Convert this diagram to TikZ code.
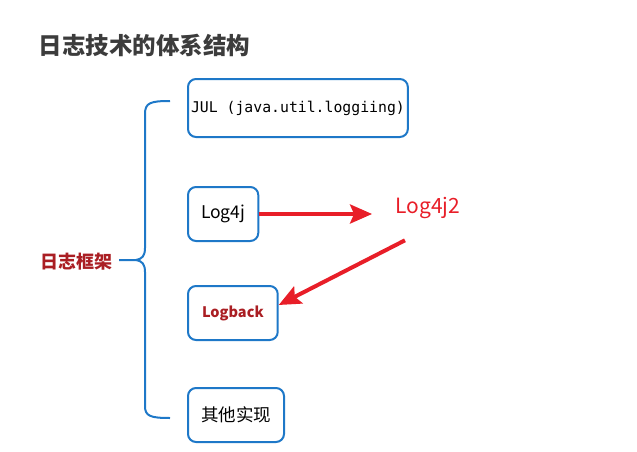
\documentclass[tikz,border=0pt]{standalone}
\usepackage{fontspec}
\setmainfont{Noto Sans CJK SC}
\setmonofont{DejaVu Sans Mono}
\usetikzlibrary{arrows.meta,calc,positioning}
\definecolor{boxblue}{RGB}{30,120,200}
\definecolor{darkred}{RGB}{170,30,35}
\definecolor{arrowred}{RGB}{232,30,40}
\definecolor{titlegray}{RGB}{60,60,60}
\tikzset{
  impl/.style={
    rounded corners=8pt,
    draw=boxblue,
    line width=2pt,
    fill=white,
    anchor=west,
    minimum height=54pt,
    inner xsep=13pt,
    font=\fontsize{17.5pt}{19pt}\selectfont
  },
  arrow/.style={
    -{Stealth[length=22pt,width=19pt,inset=4pt]},
    line width=4pt,
    arrowred
  }
}

\begin{document}
\begin{tikzpicture}[x=1pt,y=-1pt]
\useasboundingbox (0,0) rectangle (637,452);
\node[anchor=west,text=titlegray,font=\bfseries\fontsize{23.5pt}{25pt}\selectfont] (title) at (35,45) {日志技术的体系结构};
\node[impl,inner xsep=3pt,minimum height=58pt,font=\ttfamily\fontsize{14.8pt}{16pt}\selectfont] (jul) at (187,108) {JUL (java.util.loggiing)};
\node[impl] (log4j) at (187,214) {Log4j};
\node[impl,inner xsep=14pt,text=darkred,font=\bfseries\fontsize{14.5pt}{17pt}\selectfont] (logback) at (187,313) {Logback};
\node[impl] (other) at (187,415) {其他实现};
\node[text=darkred,font=\bfseries\fontsize{18pt}{20pt}\selectfont] (frame) at (76,262) {日志框架};
\node[text=arrowred,font=\fontsize{21pt}{23pt}\selectfont] (log4jz) at (428,208) {Log4j2};
% brace
\draw[boxblue,line width=2pt] (170,101) .. controls (150,101) and (145,103) .. (145,114) -- (145,248)
  .. controls (145,256) and (142,259) .. (136,260) -- (119,260)
  (136,260) .. controls (142,261) and (145,264) .. (145,272) -- (145,406)
  .. controls (145,416) and (150,418) .. (170,418);
\draw[arrow] (log4j.east) -- ($(log4j.east -| log4jz.west)+(-20,0)$);
\draw[arrow] ($(log4jz.south)+(-23,18)$) -- ($(logback.east)+(0,-8)$);
\end{tikzpicture}
\end{document}
